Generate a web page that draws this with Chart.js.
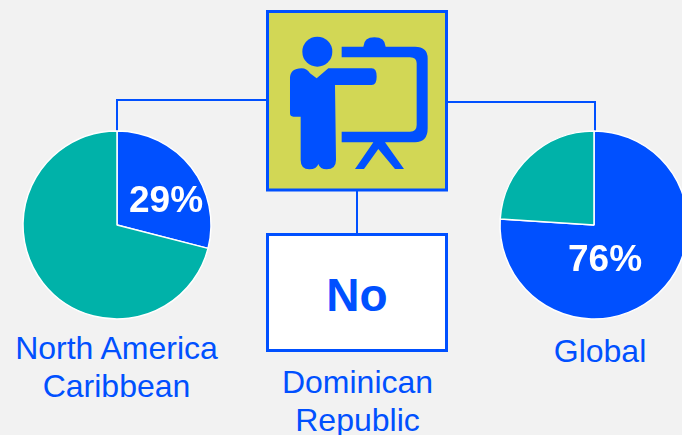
<!DOCTYPE html>
<html><head><meta charset="utf-8">
<script src="https://cdn.jsdelivr.net/npm/chart.js@4"></script>
<style>
html,body{margin:0;padding:0;width:682px;height:435px;overflow:hidden;background:#f2f2f2;font-family:"Liberation Sans",Arial,sans-serif}
#stage{position:absolute;left:0;top:0;width:682px;height:435px;overflow:hidden}
#art{position:absolute;left:0;top:0}
canvas{position:absolute}
.lbl{position:absolute;color:#0050ff;font-size:32px;line-height:38px;text-align:center;white-space:nowrap}
.no{position:absolute;left:266px;top:233px;width:182px;height:119px;box-sizing:border-box;border:3px solid #0050ff;background:#fff;color:#0050ff;font-weight:bold;font-size:46px;line-height:118px;text-align:center}
</style></head><body>
<div id="stage">
<svg id="art" width="682" height="435" xmlns="http://www.w3.org/2000/svg">
  <g fill="none" stroke="#0050ff" stroke-width="2">
    <path d="M117 132V100H267"/>
    <path d="M447 102H595V132"/>
    <path d="M357 190V234"/>
  </g>
  <rect x="267.5" y="11.5" width="179" height="178.5" fill="#d2d755" stroke="#0050ff" stroke-width="3"/>
  <g transform="translate(260 0) scale(0.33333)" fill="#0050ff">
    <circle cx="172" cy="155" r="45"/>
    <path d="M90 235Q90 205 125 205Q140 205 150 220L170 235L205 205L335 205Q350 205 350 230Q350 255 335 255L225 255L228 480Q228 508 200 508Q180 508 175 492Q170 508 148 508Q122 508 122 480L122 350L100 350Q90 350 90 340Z"/>
    <path d="M245 140L310 140Q312 112 343 112Q375 112 377 140L465 140Q503 140 503 175L503 385Q503 427 465 427L375 427L432 507L405 507L355 447L312 507L285 507L340 427L245 427L245 395L450 395Q470 395 470 375L470 190Q470 172 450 172L245 172Z"/>
  </g>
</svg>
<canvas id="left" width="202" height="202" style="left:16px;top:124px;width:202px;height:202px"></canvas>
<canvas id="right" width="202" height="202" style="left:493px;top:124px;width:202px;height:202px"></canvas>
<div class="no" id="noBox"></div>
<div class="lbl" id="l1" style="left:0;top:329px;width:233px"></div>
<div class="lbl" id="l2" style="left:257px;top:363px;width:201px"></div>
<div class="lbl" id="l3" style="left:500px;top:332px;width:200px"></div>
</div>
<script>
const sliceNames = ["Yes", "No"];
const northAmericaCaribbean = [29, 71];
const globalValues = [76, 24];
const sliceColors = ["#0050ff", "#00b2a9"];
const regionLeft = ["North America", "Caribbean"];
const regionMiddle = ["Dominican", "Republic"];
const regionRight = ["Global"];
const middleAnswer = "No";

document.getElementById("noBox").textContent = middleAnswer;
document.getElementById("l1").innerHTML = regionLeft.join("<br>");
document.getElementById("l2").innerHTML = regionMiddle.join("<br>");
document.getElementById("l3").innerHTML = regionRight.join("<br>");

const percentLabel = {
  id: "percentLabel",
  afterDatasetsDraw(chart, args, opts) {
    const c = chart.ctx;
    const arc = chart.getDatasetMeta(0).data[0];
    c.save();
    c.font = "bold 37px 'Liberation Sans', Arial, sans-serif";
    c.fillStyle = "#fff";
    c.textAlign = "center";
    c.textBaseline = "middle";
    c.fillText(chart.data.datasets[0].data[0] + "%", arc.x + opts.dx, arc.y + opts.dy);
    c.restore();
  }
};

function pie(id, values, dx, dy) {
  new Chart(document.getElementById(id), {
    type: "pie",
    data: { labels: sliceNames, datasets: [{ data: values, backgroundColor: sliceColors, borderColor: "#ffffff", borderWidth: 1.5 }] },
    options: {
      responsive: false, animation: false, radius: 94,
      layout: { padding: 0 },
      plugins: { legend: { display: false }, tooltip: { enabled: false }, percentLabel: { dx, dy } }
    },
    plugins: [percentLabel]
  });
}
pie("left", northAmericaCaribbean, 49, -23);
pie("right", globalValues, 11, 36);
</script>
</body></html>
